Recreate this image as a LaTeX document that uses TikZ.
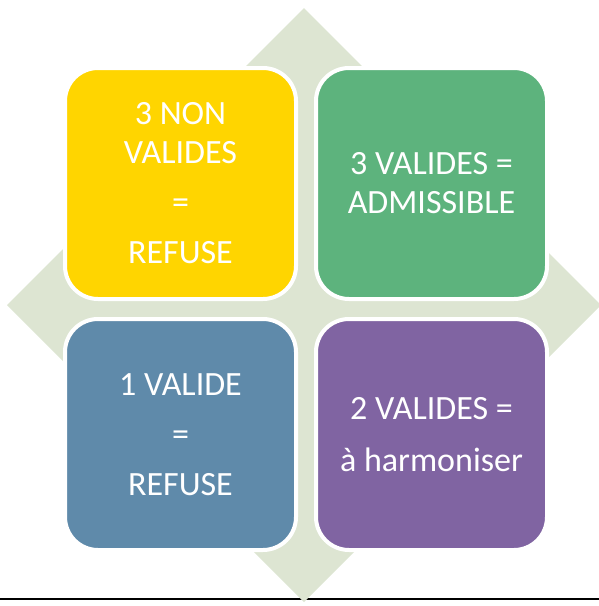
\documentclass[tikz,border=0pt]{standalone}
\usepackage{fontspec}
\setmainfont{Carlito}
\usetikzlibrary{positioning}

\definecolor{cellyellow}{RGB}{255,213,0}
\definecolor{cellgreen}{RGB}{93,179,125}
\definecolor{cellblue}{RGB}{95,138,170}
\definecolor{cellpurple}{RGB}{128,100,162}
\definecolor{diamondbg}{RGB}{221,229,210}

\begin{document}
\begin{tikzpicture}[x=1pt, y=-1pt, text=white,
    node distance=20pt,
    cell/.style={
        rectangle, rounded corners=33pt, draw=white, line width=4pt,
        minimum width=231pt, minimum height=231pt, inner sep=0pt,
        outer sep=0pt, align=center,
        font=\fontsize{34}{39}\selectfont
    }
    ]
    \useasboundingbox (0,0) rectangle (599,606);
    \draw [line width=2pt] (0,599) -- (599,599);
    \fill [diamondbg] (304,8) -- (601,305) -- (304,602) -- (7,305) -- cycle;

    \node [cell, fill=cellyellow] (nonvalides) at (180.5,183.5)
        {3 NON\\VALIDES\\[11pt]=\\[11pt]REFUSE};
    \node [cell, fill=cellgreen, right=of nonvalides] (admissible)
        {3 VALIDES =\\ADMISSIBLE};
    \node [cell, fill=cellblue, below=of nonvalides] (unevalide)
        {1 VALIDE\\[11pt]=\\[11pt]REFUSE};
    \node [cell, fill=cellpurple, below=of admissible] (harmoniser)
        {2 VALIDES =\\[13pt]à harmoniser};
\end{tikzpicture}
\end{document}
